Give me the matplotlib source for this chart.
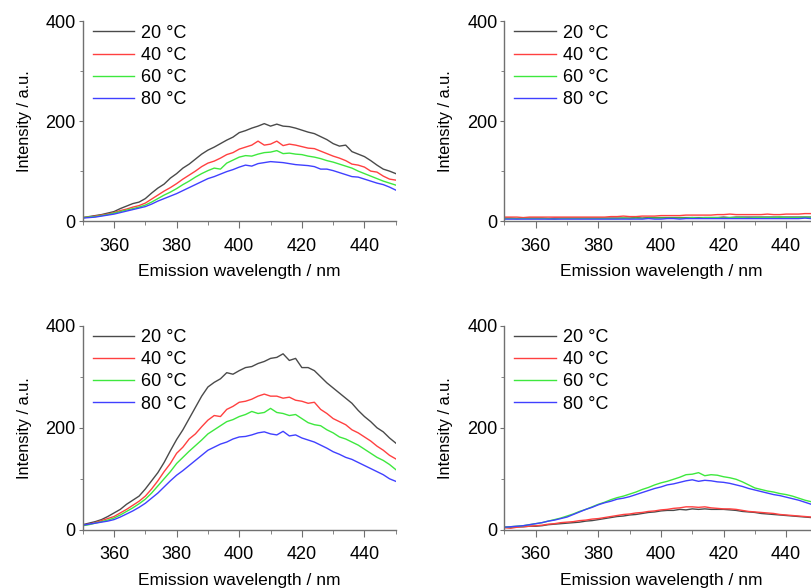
import matplotlib
matplotlib.use("Agg")
import matplotlib.pyplot as plt
from matplotlib.ticker import MultipleLocator

plt.rcParams['font.family'] = ['Liberation Sans', 'DejaVu Sans']

# emission wavelength (nm), every 2 nm
wavelength = list(range(350, 452, 2))
labels = ['20 °C', '40 °C', '60 °C', '80 °C']
colors = ['#4a4a4a', '#ff4040', '#3ee83e', '#4040ff']

# top left panel
p1_20 = [7, 9, 11, 13, 16, 19, 25, 30, 35, 38, 45, 56, 66, 74, 86, 95, 106, 114, 124, 134,
         142, 148, 155, 162, 168, 177, 181, 186, 190, 195, 190, 194, 190, 189, 186, 182, 178,
         175, 169, 163, 155, 150, 152, 139, 134, 129, 121, 112, 104, 100, 95]
p1_40 = [7, 8, 10, 12, 14, 17, 21, 24, 28, 31, 36, 44, 52, 60, 67, 75, 84, 92, 100, 109,
         116, 120, 126, 133, 137, 144, 148, 152, 160, 152, 154, 160, 151, 154, 152, 149, 146,
         145, 140, 135, 130, 126, 121, 114, 112, 108, 100, 98, 90, 84, 82]
p1_60 = [7, 8, 9, 11, 13, 16, 19, 22, 25, 28, 32, 38, 45, 52, 58, 65, 73, 80, 88, 95,
         101, 106, 104, 116, 122, 128, 131, 130, 134, 137, 138, 141, 135, 136, 134, 133, 130,
         128, 125, 121, 118, 114, 110, 106, 100, 95, 90, 85, 80, 76, 72]
p1_80 = [6, 7, 8, 10, 12, 14, 17, 20, 23, 26, 29, 34, 40, 45, 50, 55, 61, 67, 73, 79,
         85, 89, 94, 99, 103, 108, 112, 110, 115, 117, 119, 118, 117, 115, 113, 112, 111,
         109, 104, 104, 101, 97, 93, 89, 88, 84, 80, 76, 73, 68, 62]

# top right panel
p2_20 = [6, 6, 5, 6, 6, 6, 6, 5, 6, 6, 6, 6, 6, 6, 6, 6, 6, 6, 6, 6, 6, 7, 6, 7, 7, 7,
         7, 7, 7, 7, 7, 7, 7, 7, 7, 8, 7, 8, 8, 8, 8, 8, 8, 8, 8, 8, 8, 8, 8, 8, 8]
p2_40 = [8, 8, 8, 7, 8, 8, 8, 8, 8, 8, 8, 8, 8, 8, 8, 8, 8, 9, 9, 10, 9, 9, 10, 10, 10,
         11, 11, 11, 11, 12, 12, 12, 12, 12, 13, 13, 14, 13, 13, 13, 13, 13, 14, 13, 13,
         14, 14, 14, 15, 15, 15]
p2_60 = [5, 5, 5, 5, 5, 5, 5, 5, 4, 5, 5, 5, 5, 5, 5, 5, 5, 5, 5, 6, 5, 6, 5, 6, 6, 6,
         6, 6, 6, 6, 7, 6, 7, 7, 7, 6, 7, 7, 7, 6, 7, 7, 7, 7, 8, 7, 7, 7, 8, 7, 8]
p2_80 = [4, 4, 4, 4, 4, 4, 4, 4, 4, 4, 4, 4, 4, 4, 4, 4, 4, 4, 4, 4, 4, 4, 4, 5, 4, 4,
         5, 5, 4, 5, 5, 5, 5, 5, 5, 5, 5, 5, 5, 5, 5, 5, 5, 5, 5, 5, 5, 5, 6, 5, 5]

# bottom left panel
p3_20 = [10, 13, 16, 20, 26, 33, 40, 50, 58, 66, 80, 96, 112, 132, 155, 177, 196, 218,
         240, 262, 280, 289, 296, 308, 305, 312, 318, 320, 326, 330, 336, 338, 345, 332,
         336, 318, 318, 312, 300, 288, 278, 268, 258, 248, 234, 222, 212, 200, 192, 180, 170]
p3_40 = [9, 11, 14, 18, 22, 26, 33, 40, 48, 56, 66, 80, 96, 114, 130, 150, 162, 178, 188,
         202, 215, 224, 222, 236, 242, 250, 252, 256, 262, 266, 262, 262, 258, 260, 254,
         252, 248, 250, 236, 228, 218, 212, 206, 196, 190, 182, 174, 164, 156, 146, 139]
p3_60 = [8, 10, 13, 16, 19, 23, 29, 36, 43, 51, 60, 72, 86, 100, 114, 130, 142, 154, 165,
         176, 188, 196, 204, 212, 216, 222, 226, 232, 228, 230, 238, 230, 228, 224, 226,
         218, 210, 206, 204, 196, 190, 182, 178, 172, 166, 158, 150, 142, 136, 128, 118]
p3_80 = [9, 11, 13, 15, 17, 20, 25, 31, 37, 44, 52, 62, 72, 84, 96, 107, 116, 126, 136,
         146, 156, 162, 168, 172, 178, 182, 183, 186, 190, 192, 188, 186, 193, 184, 186,
         180, 176, 172, 166, 160, 153, 148, 142, 138, 132, 126, 120, 114, 108, 100, 95]

# bottom right panel
p4_20 = [5, 5, 6, 6, 7, 7, 8, 10, 11, 12, 13, 14, 15, 17, 18, 20, 22, 24, 26, 27, 29, 30,
         32, 34, 35, 37, 38, 38, 40, 39, 41, 40, 41, 40, 40, 40, 39, 38, 36, 35, 34, 32,
         31, 30, 29, 28, 27, 26, 25, 24, 24]
p4_40 = [4, 3, 5, 6, 7, 8, 9, 11, 12, 14, 15, 16, 18, 19, 21, 22, 24, 26, 28, 30, 31, 33,
         34, 36, 37, 39, 40, 42, 43, 45, 45, 44, 45, 43, 42, 41, 41, 40, 38, 36, 35, 34,
         33, 32, 30, 29, 28, 27, 26, 25, 24]
p4_60 = [5, 6, 7, 8, 10, 12, 14, 17, 20, 23, 27, 31, 36, 40, 45, 50, 54, 59, 63, 66, 70,
         74, 79, 83, 88, 92, 95, 99, 103, 108, 109, 112, 106, 108, 107, 104, 102, 99, 94,
         88, 82, 79, 76, 74, 71, 69, 66, 62, 58, 55, 53]
p4_80 = [5, 6, 7, 8, 10, 12, 14, 17, 19, 22, 25, 30, 35, 40, 44, 49, 53, 56, 60, 62, 65,
         69, 73, 77, 81, 84, 88, 90, 93, 96, 98, 95, 97, 96, 94, 93, 91, 88, 85, 81, 78,
         75, 72, 69, 67, 64, 61, 58, 54, 50, 48]

panels = [
    ([p1_20, p1_40, p1_60, p1_80], [0.102, 0.624, 0.386, 0.340]),
    ([p2_20, p2_40, p2_60, p2_80], [0.622, 0.624, 0.386, 0.340]),
    ([p3_20, p3_40, p3_60, p3_80], [0.102, 0.099, 0.386, 0.347]),
    ([p4_20, p4_40, p4_60, p4_80], [0.622, 0.099, 0.386, 0.347]),
]

fig = plt.figure(figsize=(8.11, 5.88), dpi=100)

for series, pos in panels:
    ax = fig.add_axes(pos)
    for vals, lab, c in zip(series, labels, colors):
        ax.plot(wavelength, vals, color=c, lw=1.0, label=lab)
    ax.set_xlim(350, 450)
    ax.set_ylim(0, 400)
    ax.xaxis.set_minor_locator(MultipleLocator(10))
    ax.set_xticks([360, 380, 400, 420, 440])
    ax.yaxis.set_major_locator(MultipleLocator(200))
    ax.yaxis.set_minor_locator(MultipleLocator(100))
    for s in ['top', 'right']:
        ax.spines[s].set_visible(False)
    for s in ['left', 'bottom']:
        ax.spines[s].set_color('#707070')
        ax.spines[s].set_linewidth(1.0)
    ax.tick_params(axis='x', which='major', length=5, pad=7, labelsize=13, color='#707070')
    ax.tick_params(axis='x', which='minor', length=3, color='#707070')
    ax.tick_params(axis='y', which='major', length=3, pad=2, labelsize=13, color='#707070')
    ax.tick_params(axis='y', which='minor', length=2, color='#707070')
    ax.set_xlabel('Emission wavelength / nm', fontsize=12.5, labelpad=7)
    ax.set_ylabel('Intensity / a.u.', fontsize=11.8, labelpad=10)
    ax.legend(loc='upper left', bbox_to_anchor=(0.02, 1.0), frameon=False, fontsize=13,
              handlelength=2.3, handletextpad=0.4, labelspacing=0.28, borderaxespad=0,
              borderpad=0.2)

fig.savefig('out.png', dpi=100)
